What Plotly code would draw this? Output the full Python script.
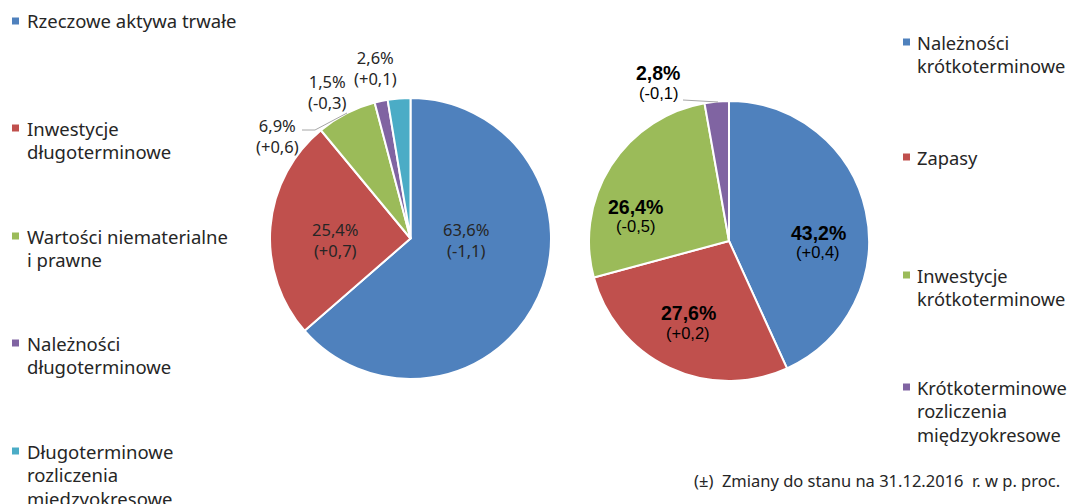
import plotly.graph_objects as go

W, H = 1072, 504

# ---- data ----
left_labels = ["Rzeczowe aktywa trwałe", "Inwestycje\ndługoterminowe", "Wartości niematerialne\ni prawne",
               "Należności\ndługoterminowe", "Długoterminowe\nrozliczenia\nmiędzyokresowe"]
left_values = [63.6, 25.4, 6.9, 1.5, 2.6]
left_changes = ["-1,1", "+0,7", "+0,6", "-0,3", "+0,1"]

right_labels = ["Należności\nkrótkoterminowe", "Zapasy", "Inwestycje\nkrótkoterminowe",
                "Krótkoterminowe\nrozliczenia\nmiędzyokresowe"]
right_values = [43.2, 27.6, 26.4, 2.8]
right_changes = ["+0,4", "+0,2", "-0,5", "-0,1"]

left_colors = ["#4F81BD", "#C0504D", "#9BBB59", "#8064A2", "#4BACC6"]
right_colors = ["#4F81BD", "#C0504D", "#9BBB59", "#8064A2"]

footnote = "(±)  Zmiany do stanu na 31.12.2016\u00a0\u00a0r. w p. proc."

# ---- layout helpers ----
def px(x):
    return x / W

def py(y):
    return 1 - y / H

def fmt(v):
    return f"{v:.1f}%".replace(".", ",")

SANS = "Noto Sans"
ARIAL = "Liberation Sans, Arial"
TXT = "#262626"

fig = go.Figure()
fig.add_trace(go.Pie(
    values=left_values, labels=[l.replace("\n", " ") for l in left_labels],
    marker=dict(colors=left_colors, line=dict(color="white", width=2)),
    sort=False, direction="clockwise", rotation=0, textinfo="none",
    hoverinfo="label+value", showlegend=False,
    domain=dict(x=[px(270), px(551)], y=[py(379), py(98)]),
))
fig.add_trace(go.Pie(
    values=right_values, labels=[l.replace("\n", " ") for l in right_labels],
    marker=dict(colors=right_colors, line=dict(color="white", width=2)),
    sort=False, direction="clockwise", rotation=0, textinfo="none",
    hoverinfo="label+value", showlegend=False,
    domain=dict(x=[px(589), px(869)], y=[py(382), py(100)]),
))

annotations = []
shapes = []

# left pie labels: (x center, y center of the two-line block)
left_pos = [(466, 240), (335, 240), (277, 136), (327, 92), (375, 68)]
for v, c, (x, yc) in zip(left_values, left_changes, left_pos):
    annotations.append(dict(x=px(x), y=py(yc), text=f"{fmt(v)}<br>({c})", showarrow=False,
                            xanchor="center", yanchor="middle", align="center",
                            font=dict(family=SANS, size=16.5, color=TXT)))

# right pie labels
right_pos = [(818, 233, 252), (688, 313, 333), (635, 207, 226), (658, 73, 93)]
for v, c, (x, y1, y2) in zip(right_values, right_changes, right_pos):
    annotations.append(dict(x=px(x), y=py(y1), text=f"<b>{fmt(v)}</b>", showarrow=False, xanchor="center",
                            yanchor="middle", font=dict(family=ARIAL, size=19.5, color="#000000")))
    annotations.append(dict(x=px(x), y=py(y2), text=f"({c})", showarrow=False, xanchor="center",
                            yanchor="middle", font=dict(family=ARIAL, size=16.5, color="#000000")))

# leader lines
line_style = dict(color="#A6A6A6", width=1)
shapes.append(dict(type="path", xref="paper", yref="paper",
                   path=f"M {px(302)},{py(130)} L {px(315)},{py(130)} L {px(347)},{py(113)}",
                   line=line_style))
shapes.append(dict(type="line", xref="paper", yref="paper",
                   x0=px(683), y0=py(100), x1=px(718), y1=py(102), line=line_style))

# legends
LINE_H = 23.5
left_leg_y = [21, 128, 236, 343, 451]
for lab, col, y0 in zip(left_labels, left_colors, left_leg_y):
    shapes.append(dict(type="rect", xref="paper", yref="paper", x0=px(12), x1=px(19),
                       y0=py(y0 - 3.5), y1=py(y0 + 3.5), fillcolor=col, line=dict(width=0)))
    for i, line in enumerate(lab.split("\n")):
        annotations.append(dict(x=px(25), y=py(y0 + i * LINE_H), text=line, showarrow=False,
                                xanchor="left", yanchor="middle",
                                font=dict(family=SANS, size=18.5, color=TXT)))

right_leg_y = [42, 157, 275, 387]
for lab, col, y0 in zip(right_labels, right_colors, right_leg_y):
    shapes.append(dict(type="rect", xref="paper", yref="paper", x0=px(903), x1=px(910),
                       y0=py(y0 - 3.5), y1=py(y0 + 3.5), fillcolor=col, line=dict(width=0)))
    for i, line in enumerate(lab.split("\n")):
        annotations.append(dict(x=px(915), y=py(y0 + i * LINE_H), text=line, showarrow=False,
                                xanchor="left", yanchor="middle",
                                font=dict(family=SANS, size=18.3, color=TXT)))

annotations.append(dict(x=px(692), y=py(480), text=footnote, showarrow=False, xanchor="left",
                        yanchor="middle", font=dict(family=SANS, size=16.5, color=TXT)))

fig.update_layout(
    width=W, height=H, autosize=False,
    margin=dict(l=0, r=0, t=0, b=0),
    paper_bgcolor="white", plot_bgcolor="white",
    annotations=annotations, shapes=shapes,
)

fig.write_html("out.html", config={"displayModeBar": False},
               post_script="document.body.style.margin='0px';")
